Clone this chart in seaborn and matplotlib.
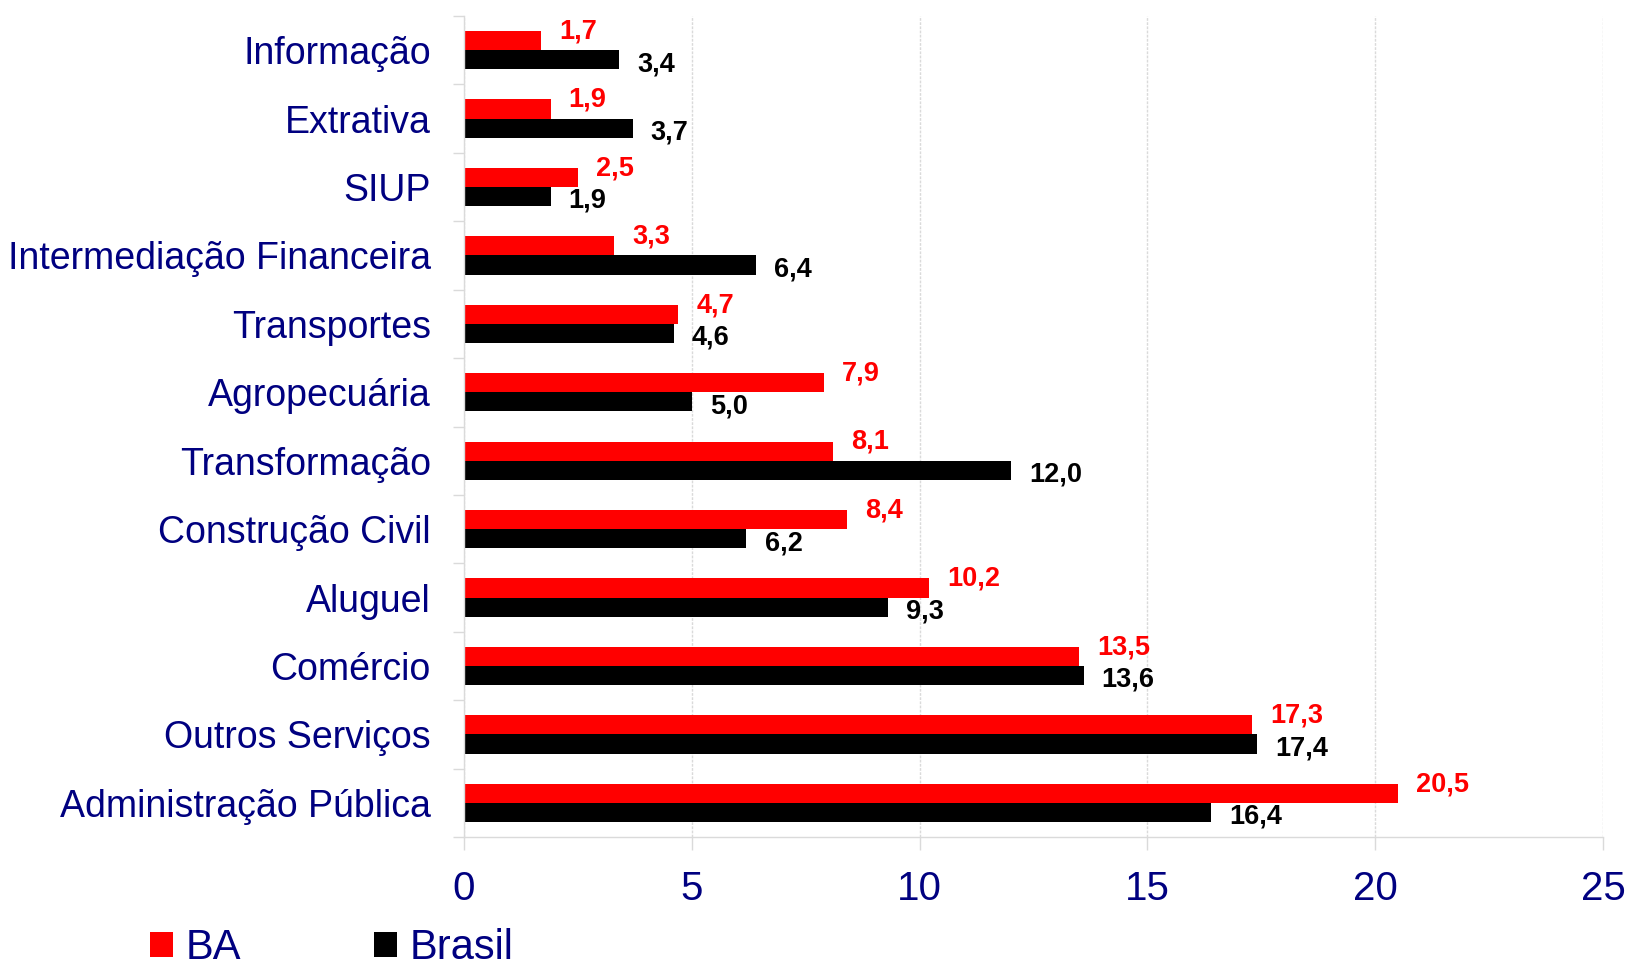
import matplotlib
matplotlib.use("Agg")
import matplotlib.pyplot as plt
import seaborn as sns
import pandas as pd
import numpy as np
from matplotlib.patches import Patch

categories = ["Informação", "Extrativa", "SIUP", "Intermediação Financeira",
              "Transportes", "Agropecuária", "Transformação", "Construção Civil",
              "Aluguel", "Comércio", "Outros Serviços", "Administração Pública"]
ba_values = [1.7, 1.9, 2.5, 3.3, 4.7, 7.9, 8.1, 8.4, 10.2, 13.5, 17.3, 20.5]
brasil_values = [3.4, 3.7, 1.9, 6.4, 4.6, 5.0, 12.0, 6.2, 9.3, 13.6, 17.4, 16.4]
series_names = ["BA", "Brasil"]
x_ticks = [0, 5, 10, 15, 20, 25]

NAVY = "#000080"
RED = "#FF0000"
BLACK = "#000000"
GRID = "#dadada"

sns.set_theme(style="white")
plt.rcParams["font.family"] = ["Liberation Sans", "DejaVu Sans"]

df = pd.DataFrame({
    "Setor": categories * 2,
    "Valor": ba_values + brasil_values,
    "Série": [series_names[0]] * len(categories) + [series_names[1]] * len(categories),
})

fig = plt.figure(figsize=(16.31, 9.75), dpi=100)
ax = fig.add_axes([464 / 1631, 1 - 837 / 975, (1603 - 464) / 1631, (837 - 16) / 975])

sns.barplot(data=df, y="Setor", x="Valor", hue="Série", order=categories,
            hue_order=series_names, palette=[RED, BLACK], orient="h",
            width=0.56, gap=0, dodge=True, ax=ax, legend=False, saturation=1,
            edgecolor="none", linewidth=0, errorbar=None)

ax.set_xlim(0, 25)
ax.set_ylim(len(categories) - 0.5, -0.5)
ax.set_xticks(x_ticks)
ax.set_xticklabels([str(t) for t in x_ticks])
ax.set_xlabel("")
ax.set_ylabel("")

ax.grid(axis="x", color=GRID, linewidth=1.0, linestyle=(0, (2, 1)))
ax.grid(axis="y", visible=False)
ax.set_axisbelow(True)

for s in ["top", "right"]:
    ax.spines[s].set_visible(False)
for s in ["left", "bottom"]:
    ax.spines[s].set_color(GRID)
    ax.spines[s].set_linewidth(1.0)

ax.tick_params(axis="x", direction="out", length=9.4, width=1.0, color=GRID,
               labelsize=29, labelcolor=NAVY, pad=14, bottom=True)
ax.tick_params(axis="y", which="major", length=0, labelsize=27,
               labelcolor=NAVY, pad=24, left=True)
ax.set_yticks(np.arange(-0.5, len(categories) + 0.5, 1.0), minor=True)
ax.tick_params(axis="y", which="minor", direction="out", length=8, width=1.0,
               color=GRID, left=True)

def fmt(v):
    return f"{v:.1f}".replace(".", ",")

for i, (b, r) in enumerate(zip(ba_values, brasil_values)):
    ax.annotate(fmt(b), xy=(b, i), xytext=(13, 13.5), textcoords="offset points",
                ha="left", va="center", fontsize=19.5, fontweight="bold", color=RED)
    ax.annotate(fmt(r), xy=(r, i), xytext=(13, -10), textcoords="offset points",
                ha="left", va="center", fontsize=19.5, fontweight="bold", color=BLACK)

handles = [Patch(facecolor=RED, edgecolor="none"), Patch(facecolor=BLACK, edgecolor="none")]
leg = fig.legend(handles, series_names, loc="center left",
                 bbox_to_anchor=(150 / 1631, 1 - 948 / 975),
                 ncol=2, frameon=False, fontsize=30, handlelength=0.55,
                 handleheight=0.55, handletextpad=0.3, columnspacing=3.2,
                 borderpad=0, borderaxespad=0)
for t in leg.get_texts():
    t.set_color(NAVY)

fig.savefig("out.png", dpi=100)
